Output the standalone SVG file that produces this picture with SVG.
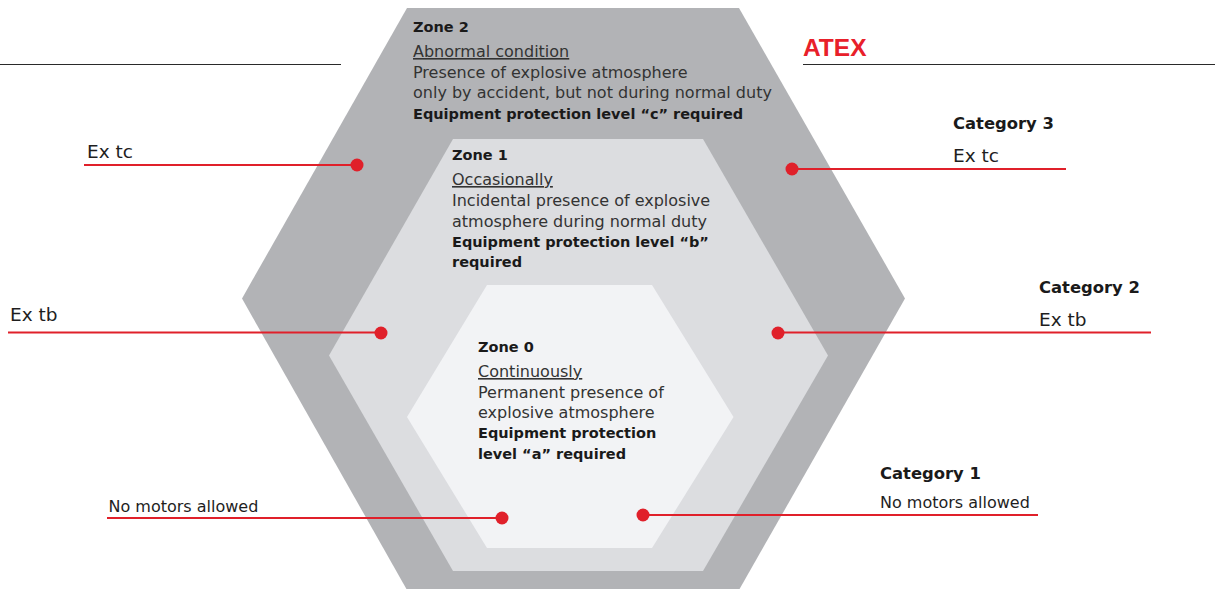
<svg xmlns="http://www.w3.org/2000/svg" width="1215" height="589" viewBox="0 0 1215 589">
<style>
  text { font-family: "DejaVu Sans", "Liberation Sans", sans-serif; }
  .t { font-size: 14.5px; font-weight: bold; fill: #1a1a1a; }
  .b { font-size: 16px; fill: #333333; }
  .bb { font-size: 14.5px; font-weight: bold; fill: #1a1a1a; }
  .u { text-decoration: underline; }
  .lbl { font-size: 18.5px; fill: #1e1e1e; }
  .lbs { font-size: 16px; fill: #1e1e1e; }
  .cat { font-size: 16.4px; font-weight: bold; fill: #1a1a1a; }
  .red { stroke: #e0202a; stroke-width: 2; fill: none; }
  .dot { fill: #e0202a; }
  .rule { stroke: #2a2a2a; stroke-width: 1; }
</style>
<rect width="1215" height="589" fill="#ffffff"/>
<g id="zone2">
  <polygon points="407,8 739,8 905,298.5 739,590 407,590 242,298.5" fill="#b2b3b6"/>
  <text class="t" x="413" y="32">Zone 2</text>
  <text class="b u" x="413" y="57">Abnormal condition</text>
  <text class="b" x="413" y="77.5">Presence of explosive atmosphere</text>
  <text class="b" x="413" y="98">only by accident, but not during normal duty</text>
  <text class="bb" x="413" y="118.5">Equipment protection level “c” required</text>
</g>
<g id="zone1">
  <polygon points="453,139 703,139 828,355.5 703,571 453,571 329,355.5" fill="#dcdde0"/>
  <text class="t" x="452" y="159.5">Zone 1</text>
  <text class="b u" x="452" y="185">Occasionally</text>
  <text class="b" x="452" y="206">Incidental presence of explosive</text>
  <text class="b" x="452" y="226.5">atmosphere during normal duty</text>
  <text class="bb" x="452" y="247">Equipment protection level “b”</text>
  <text class="bb" x="452" y="267">required</text>
</g>
<g id="zone0">
  <polygon points="487,285 652,285 733.5,417 652,548 487,548 407,417" fill="#f2f3f5"/>
  <text class="t" x="478" y="351.5">Zone 0</text>
  <text class="b u" x="478" y="377">Continuously</text>
  <text class="b" x="478" y="397.5">Permanent presence of</text>
  <text class="b" x="478" y="417.5">explosive atmosphere</text>
  <text class="bb" x="478" y="438">Equipment protection</text>
  <text class="bb" x="478" y="458.5">level “a” required</text>
</g>
<g id="header">
  <line class="rule" x1="0" y1="64.5" x2="341" y2="64.5"/>
  <line class="rule" x1="803" y1="64.5" x2="1215" y2="64.5"/>
  <text x="803" y="55.5" style="font-family: 'Liberation Sans', sans-serif; font-size: 24.5px; font-weight: bold; fill: #e8202a;">ATEX</text>
</g>
<g id="labels-left">
  <text class="lbl" x="87" y="158">Ex tc</text>
  <text class="lbl" x="10" y="321">Ex tb</text>
  <text class="lbs" x="108.5" y="511.5">No motors allowed</text>
</g>
<g id="labels-right">
  <text class="cat" x="953" y="129">Category 3</text>
  <text class="lbl" x="953" y="162">Ex tc</text>
  <text class="cat" x="1039" y="293">Category 2</text>
  <text class="lbl" x="1039" y="326">Ex tb</text>
  <text class="cat" x="880" y="479">Category 1</text>
  <text class="lbs" x="880" y="508">No motors allowed</text>
</g>
<g id="connectors">
  <line class="red" x1="84" y1="165" x2="357" y2="165"/>
  <circle class="dot" cx="357" cy="165" r="6.5"/>
  <line class="red" x1="8" y1="332.5" x2="381" y2="332.5"/>
  <circle class="dot" cx="381" cy="333" r="6.5"/>
  <line class="red" x1="107" y1="518" x2="502" y2="518"/>
  <circle class="dot" cx="502" cy="518" r="6.5"/>
  <line class="red" x1="792" y1="169" x2="1066" y2="169"/>
  <circle class="dot" cx="792" cy="169" r="6.5"/>
  <line class="red" x1="778" y1="332.5" x2="1151" y2="332.5"/>
  <circle class="dot" cx="778" cy="333" r="6.5"/>
  <line class="red" x1="643" y1="515" x2="1038" y2="515"/>
  <circle class="dot" cx="643" cy="515" r="6.5"/>
</g>
</svg>
